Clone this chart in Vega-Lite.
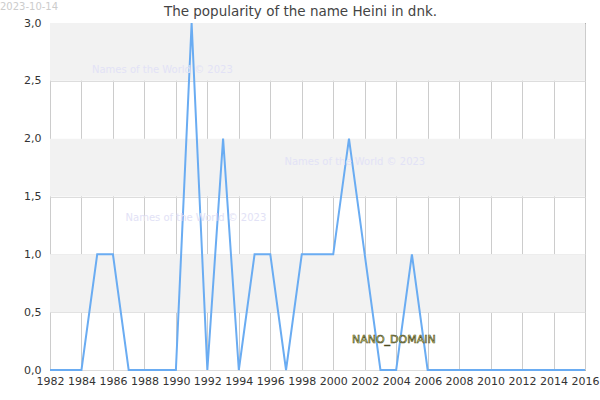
{
  "$schema": "https://vega.github.io/schema/vega-lite/v6.json",
  "width": 535,
  "height": 347,
  "autosize": {"type": "none"},
  "padding": {"left": 50, "top": 23, "right": 15, "bottom": 30},
  "background": "white",
  "config": {
    "font": "DejaVu Sans",
    "view": {"stroke": "#000", "strokeWidth": 1},
    "title": {"font": "DejaVu Sans"},
    "text": {"font": "DejaVu Sans"},
    "axisX": {
      "title": null,
      "domain": false,
      "ticks": false,
      "grid": true,
      "gridColor": "#cccccc",
      "gridOpacity": 1,
      "labelFont": "DejaVu Sans",
      "labelFontSize": 11,
      "labelColor": "#333",
      "labelPadding": 5,
      "labelFlush": false,
      "labelOverlap": false
    },
    "axisY": {
      "title": null,
      "domain": false,
      "ticks": false,
      "grid": true,
      "gridColor": "#dddddd",
      "gridOpacity": 1,
      "labelFont": "DejaVu Sans",
      "labelFontSize": 11,
      "labelColor": "#333",
      "labelPadding": 9,
      "labelFlush": false,
      "labelOverlap": false
    }
  },
  "title": {
    "text": "The popularity of the name Heini in dnk.",
    "font": "DejaVu Sans",
    "fontSize": 13.5,
    "fontWeight": "normal",
    "color": "#444",
    "anchor": "middle",
    "dx": -17,
    "offset": 5,
    "dy": 22
  },
  "datasets": {
    "counts": [
      {"year": 1982, "count": 0}, {"year": 1983, "count": 0}, {"year": 1984, "count": 0},
      {"year": 1985, "count": 1}, {"year": 1986, "count": 1}, {"year": 1987, "count": 0},
      {"year": 1988, "count": 0}, {"year": 1989, "count": 0}, {"year": 1990, "count": 0},
      {"year": 1991, "count": 3}, {"year": 1992, "count": 0}, {"year": 1993, "count": 2},
      {"year": 1994, "count": 0}, {"year": 1995, "count": 1}, {"year": 1996, "count": 1},
      {"year": 1997, "count": 0}, {"year": 1998, "count": 1}, {"year": 1999, "count": 1},
      {"year": 2000, "count": 1}, {"year": 2001, "count": 2}, {"year": 2002, "count": 1},
      {"year": 2003, "count": 0}, {"year": 2004, "count": 0}, {"year": 2005, "count": 1},
      {"year": 2006, "count": 0}, {"year": 2007, "count": 0}, {"year": 2008, "count": 0},
      {"year": 2009, "count": 0}, {"year": 2010, "count": 0}, {"year": 2011, "count": 0},
      {"year": 2012, "count": 0}, {"year": 2013, "count": 0}, {"year": 2014, "count": 0},
      {"year": 2015, "count": 0}, {"year": 2016, "count": 0}
    ],
    "bands": [
      {"lo": 0.5, "hi": 1.0},
      {"lo": 1.5, "hi": 2.0},
      {"lo": 2.5, "hi": 3.0}
    ],
    "marks": [
      {"year": 1984.67, "count": 2.59, "label": "Names of the World © 2023"},
      {"year": 1996.9, "count": 1.8, "label": "Names of the World © 2023"},
      {"year": 1986.8, "count": 1.31, "label": "Names of the World © 2023"}
    ],
    "domain": [{"year": 2003.85, "count": 0.26, "label": "NANO_DOMAIN"}],
    "date": [{"year": 1978.82, "count": 3.14, "label": "2023-10-14"}]
  },
  "layer": [
    {
      "data": {"name": "bands"},
      "mark": {"type": "rect", "color": "#f2f2f2"},
      "encoding": {
        "y": {"field": "lo", "type": "quantitative", "scale": {"domain": [0, 3], "nice": false},
          "axis": {"values": [0, 0.5, 1, 1.5, 2, 2.5, 3], "labelExpr": "replace(format(datum.value, '.1f'), '.', ',')"}},
        "y2": {"field": "hi"}
      }
    },
    {
      "data": {"name": "counts"},
      "mark": {"type": "line", "color": "#6aacf2", "strokeWidth": 2},
      "encoding": {
        "x": {
          "field": "year", "type": "quantitative",
          "scale": {"domain": [1982, 2016], "nice": false, "zero": false},
          "axis": {"values": [1982,1984,1986,1988,1990,1992,1994,1996,1998,2000,2002,2004,2006,2008,2010,2012,2014,2016], "format": "d"}
        },
        "y": {
          "field": "count", "type": "quantitative",
          "scale": {"domain": [0, 3], "nice": false},
          "axis": {"values": [0, 0.5, 1, 1.5, 2, 2.5, 3], "labelExpr": "replace(format(datum.value, '.1f'), '.', ',')"}
        }
      }
    },
    {
      "data": {"name": "marks"},
      "mark": {"type": "text", "align": "left", "baseline": "middle", "fontSize": 10, "font": "DejaVu Sans", "color": "#e2e2f6"},
      "encoding": {
        "x": {"field": "year", "type": "quantitative",
          "axis": {"values": [1982,1984,1986,1988,1990,1992,1994,1996,1998,2000,2002,2004,2006,2008,2010,2012,2014,2016], "format": "d"}},
        "y": {"field": "count", "type": "quantitative",
          "axis": {"values": [0, 0.5, 1, 1.5, 2, 2.5, 3], "labelExpr": "replace(format(datum.value, '.1f'), '.', ',')"}},
        "text": {"field": "label"}
      }
    },
    {
      "data": {"name": "domain"},
      "mark": {"type": "text", "align": "center", "baseline": "middle", "fontSize": 11, "font": "DejaVu Sans", "fill": "#eeee90", "stroke": "#4a4a22", "strokeWidth": 0.6},
      "encoding": {
        "x": {"field": "year", "type": "quantitative",
          "axis": {"values": [1982,1984,1986,1988,1990,1992,1994,1996,1998,2000,2002,2004,2006,2008,2010,2012,2014,2016], "format": "d"}},
        "y": {"field": "count", "type": "quantitative",
          "axis": {"values": [0, 0.5, 1, 1.5, 2, 2.5, 3], "labelExpr": "replace(format(datum.value, '.1f'), '.', ',')"}},
        "text": {"field": "label"}
      }
    },
    {
      "data": {"name": "date"},
      "mark": {"type": "text", "align": "left", "baseline": "middle", "fontSize": 10, "font": "DejaVu Sans", "color": "#cccccc", "clip": false},
      "encoding": {
        "x": {"field": "year", "type": "quantitative",
          "axis": {"values": [1982,1984,1986,1988,1990,1992,1994,1996,1998,2000,2002,2004,2006,2008,2010,2012,2014,2016], "format": "d"}},
        "y": {"field": "count", "type": "quantitative",
          "axis": {"values": [0, 0.5, 1, 1.5, 2, 2.5, 3], "labelExpr": "replace(format(datum.value, '.1f'), '.', ',')"}},
        "text": {"field": "label"}
      }
    }
  ]
}
